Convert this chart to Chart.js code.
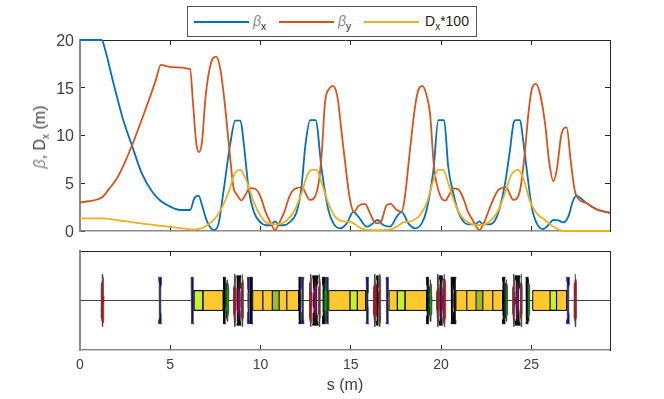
<!DOCTYPE html>
<html><head><meta charset="utf-8">
<script src="https://cdn.jsdelivr.net/npm/chart.js@4/dist/chart.umd.min.js"></script>
<style>
html,body{margin:0;padding:0;background:#fff;width:664px;height:399px;overflow:hidden;font-family:"Liberation Sans",Arial,sans-serif}
canvas{position:absolute;left:0;top:0}
#legend{position:absolute;left:187px;top:6px;width:288px;height:29px;border:1px solid #555;background:#fff;z-index:5}
.ln{position:absolute;top:13.5px;height:2px;width:55px}
.lb{position:absolute;top:6px;font-size:14px;color:#222;line-height:16px;white-space:nowrap}
.gr{font-style:italic;color:#888}
sub{font-size:10px;line-height:0;vertical-align:-4px}
#ylab{position:absolute;left:40px;top:137px;transform:translate(-50%,-50%) rotate(-90deg);font-size:16px;font-weight:400;color:#404040;white-space:nowrap}
</style></head><body>
<canvas id="top" width="664" height="399"></canvas>
<canvas id="low" width="664" height="399"></canvas>
<div id="legend">
<div class="ln" style="left:6px;background:#0072BD"></div><div class="lb" style="left:65px"><span class="gr">β</span><sub>x</sub></div>
<div class="ln" style="left:91px;background:#D95319"></div><div class="lb" style="left:150px"><span class="gr">β</span><sub>y</sub></div>
<div class="ln" style="left:176px;background:#EDB120"></div><div class="lb" style="left:237px">D<sub>x</sub>*100</div>
</div>
<div id="ylab"><span class="gr">β</span>, D<sub>x</sub> (m)</div>
<script>
const sMax=29.36;
const betaXs=[0,1.2,1.39,1.85,2.4,2.87,3.43,4,4.44,5,5.55,6.1,6.33,6.57,6.76,7.04,7.4,7.68,7.96,8.33,8.6,8.89,9.07,9.35,9.63,10,10.3,10.55,10.8,11.05,11.3,11.6,12,12.25,12.5,12.75,13.05,13.39,13.76,14.04,14.4,14.78,15.14,15.42,15.88,16.16,16.47,16.8,17.18,17.55,17.82,18.19,18.56,18.93,19.2,19.58,19.85,20.17,20.4,20.68,20.96,21.24,21.5,21.88,22.12,22.34,22.7,23,23.27,23.55,23.82,24.04,24.15,24.38,24.52,24.75,25.02,25.3,25.67,25.95,26.22,26.5,26.78,27.05,27.3,27.48,28.07,28.62,29.36];
const betaXv=[20,20,19,15.5,11.6,9,6,4.1,3.2,2.55,2.2,2.2,3.4,3.7,2.7,1,0.1,0.8,4.3,9.2,11.55,11.55,9.2,4.3,2,0.9,0.6,0.6,1,0.6,0.6,0.9,2,4.3,9.2,11.6,11.6,6.4,2.2,0.8,0.28,0.8,2,1.5,0.45,0.7,1.15,0.63,0.45,1.5,2,0.8,0.28,0.8,2.2,6.4,11.6,11.6,6.7,3.95,2,1,0.7,0.7,1,0.7,0.7,1.15,2.55,5,8.5,11.45,11.6,11.6,9.9,6.4,2.55,0.8,0.2,0.63,1.15,1.1,0.9,1.5,3.1,3.67,2.9,2.27,1.9];
const betaYs=[0,1.2,1.57,2.04,2.5,2.96,3.43,3.89,4.2,4.48,5,6.1,6.26,6.44,6.6,6.76,6.94,7.13,7.37,7.55,7.78,8,8.24,8.5,8.7,8.94,9.17,9.4,9.72,10,10.28,10.55,10.8,11.05,11.32,11.6,11.88,12.28,12.74,13.2,13.39,13.57,13.82,14,14.26,14.5,14.78,14.96,15.18,15.42,15.79,16.07,16.29,16.47,16.71,16.99,17.2,17.55,17.82,18,18.28,18.56,18.75,18.97,19.2,19.39,19.61,19.94,20.22,20.5,20.68,20.96,21.24,21.5,21.8,22.12,22.44,22.8,23.18,23.6,24,24.38,24.62,24.84,25.02,25.26,25.48,25.76,26,26.22,26.41,26.68,26.96,27.18,27.37,27.5,28.07,28.62,29.36];
const betaYv=[3,3.5,4.3,5.5,7.25,9.35,11.7,14.1,15.8,17.4,17.17,16.96,13.4,9.2,8.25,9.35,13.7,16.5,18.1,18.25,16.9,13.7,9.2,4.6,3.8,3.2,3.8,4.5,4.4,3.6,2,0.9,0.1,0.9,2,3.6,4.4,4.57,3.25,4.8,8.1,13.4,14.94,15.2,14.07,10.2,5.7,3.25,2,2.6,2.83,1.85,1,0.8,1.15,2.7,2.83,2.2,2,3.6,8.5,13,14.8,15.2,14.2,12.3,6.7,3.77,3.18,3.95,4.47,4.36,3.4,2,1,0.1,1.15,2.9,4.3,4.57,3.25,4.3,7.8,12.3,14.8,15.4,14.4,11.3,7.1,5.2,6.4,10.2,10.85,7.4,4.64,3.67,2.9,2.27,1.9];
const dispS=[0,1.2,2.2,3.15,4.44,5.55,6.3,6.76,7.13,7.6,8.05,8.33,8.5,8.7,8.89,9.07,9.35,9.63,10,10.25,10.84,11.45,11.9,12.28,12.56,12.84,13.1,13.39,13.76,14.13,14.6,15.05,15.42,15.79,16.44,17.18,17.55,17.92,18.38,18.84,19.2,19.58,19.85,20.13,20.4,20.77,21.14,21.6,22.12,22.7,23.18,23.55,23.9,24.28,24.56,24.93,25.3,25.76,26.22,26.78,29.36];
const dispV=[1.33,1.33,1.1,0.85,0.55,0.3,0.15,0.3,0.7,1.6,3.2,4.6,5.7,6.3,6.4,5.9,4.6,3,1.6,1,0.7,1.1,2.2,4,5.7,6.4,6.4,5,2.9,1.5,1,0.9,0.45,0.15,0.1,0.15,0.45,0.9,1.05,1.68,2.9,5.3,6.4,6.4,5,2.9,1.5,0.8,0.63,1,2.2,4,5.9,6.4,5.5,3.1,1.85,1.15,0.45,0,0];
const xTicks=[0,5,10,15,20,25];
const yTicks=[0,5,10,15,20];
// lattice elements: [start,end] in metres
const dipoles=[[6.32,7.94],[9.57,12.12],[13.78,15.84],[17.12,19.2],[20.83,23.41],[25.08,26.96]];
const dipoleCuts=[[6.32,6.8],[9.57,10.12],[10.12,10.66],[11.03,11.45],[14.96,15.36],[17.58,18.0],[20.83,21.42],[22.31,22.86]];
const limeBlocks=[[6.32,6.8],[14.96,15.36],[17.58,18.0],[26.04,26.4]];
const oliveBlocks=[[10.66,11.03],[21.94,22.31]];
const redLens=[[1.17,1.33],[8.5,8.66],[8.94,9.06],[12.7,12.86],[13.22,13.32],[16.25,16.42],[16.55,16.67],[19.76,19.9],[20.1,20.27],[23.97,24.1],[24.4,24.5],[27.37,27.52]];
const blueLens=[[4.36,4.52],[6.15,6.31],[9.27,9.42],[12.26,12.41],[13.65,13.78],[15.84,16.0],[16.95,17.11],[26.96,27.12]];
const darkLens=[[7.94,8.07],[9.42,9.57],[12.12,12.25],[13.43,13.6],[19.2,19.33],[20.55,20.68],[20.68,20.83],[23.41,23.55],[24.7,24.83]];
const blackLens=[[8.68,8.92],[12.88,13.2],[16.44,16.53],[19.92,20.08],[24.12,24.38]];
const greenLens=[[8.07,8.25],[13.5,13.7],[19.33,19.5],[23.55,23.69],[24.78,24.92]];
const purpleLens=[[8.72,8.88],[12.95,13.12],[19.95,20.08],[24.15,24.3]];

const rect=([a,b],h)=>[{x:a,y:-h},{x:a,y:h},{x:b,y:h},{x:b,y:-h},{x:a,y:-h}];
const bow=(a,b,h,f)=>{const c=(a+b)/2,w=(b-a)/2,p=[];const N=6;
  for(let i=-N;i<=N;i++){const t=i/N;p.push({x:c+f(t)*w,y:t*h});}
  for(let i=N;i>=-N;i--){const t=i/N;p.push({x:c-f(t)*w,y:t*h});}
  p.push(p[0]);return p;};
const convex=([a,b],h)=>bow(a,b,h,t=>1-t*t);
const concave=([a,b],h)=>bow(a,b,h,t=>0.4+0.6*t*t);
const poly=(data,fill,stroke,order,w)=>({data,backgroundColor:fill,borderColor:stroke,borderWidth:w??0.7,fill:'shape',showLine:true,pointRadius:0,order,tension:0});

const lineSet=(xs,vs,color,order)=>({data:xs.map((x,i)=>({x,y:vs[i]})),borderColor:color,backgroundColor:color,borderWidth:1.8,pointRadius:0,showLine:true,cubicInterpolationMode:'monotone',fill:false,order,clip:2});

const txt='#404040',ax='#262626',axL='#8a8a8a';
const F={family:'"Liberation Sans",Arial,sans-serif',size:14};
const FY={...F,size:16};
function axes(xLabels,L,T,B,yShow){
  const H=399;
  const xt=()=>({afterBuildTicks(s){s.ticks=xTicks.map(value=>({value}));}});
  return {
    x:{type:'linear',position:'bottom',min:0,max:sMax,...xt(),
      afterFit(s){s.height=H-B;},
      border:{color:axL,width:1.5},grid:{drawOnChartArea:false,drawTicks:true,tickLength:-5,color:ax,tickWidth:1},
      ticks:{display:xLabels,color:txt,font:F,padding:11.5,maxRotation:0,autoSkip:false},
      title:{display:xLabels,text:'s (m)',color:txt,font:FY,padding:{top:2,bottom:4}}},
    x2:{type:'linear',position:'top',min:0,max:sMax,...xt(),
      afterFit(s){s.height=T;},
      border:{color:ax,width:1},grid:{drawOnChartArea:false,tickLength:-5,color:ax},
      ticks:{display:false}},
    y:{type:'linear',position:'left',min:L[0],max:L[1],
      afterBuildTicks(s){s.ticks=yShow?yTicks.map(value=>({value})):[];},
      afterFit(s){s.width=80;},
      border:{color:axL,width:2},grid:{drawOnChartArea:false,tickLength:-5,color:ax},
      ticks:{display:yShow,color:txt,font:FY,padding:11,labelOffset:1.5}},
    y2:{type:'linear',position:'right',min:L[0],max:L[1],
      afterBuildTicks(s){s.ticks=yShow?yTicks.map(value=>({value})):[];},
      afterFit(s){s.width=664-610;},
      border:{color:ax,width:1},grid:{drawOnChartArea:false,tickLength:-5,color:ax},
      ticks:{display:false}}
  };
}
const base={responsive:false,animation:false,devicePixelRatio:1,events:[],
  plugins:{legend:{display:false},tooltip:{enabled:false},title:{display:false}},
  layout:{padding:0}};

new Chart(document.getElementById('top'),{type:'scatter',
  data:{datasets:[
    lineSet(betaXs,betaXv,'#0072BD',3),
    lineSet(betaYs,betaYv,'#D95319',2),
    lineSet(dispS,dispV,'#EDB120',1)]},
  options:{...base,scales:axes(false,[0,20],40,231,true)}});

const K='#000';
const low=[];
low.push(poly([{x:0,y:0},{x:sMax,y:0}],'transparent','#444',100,1));
dipoles.forEach(e=>low.push(poly(rect(e,0.2),'#FFC92E',K,90,1)));
dipoleCuts.forEach(e=>low.push(poly(rect(e,0.2),'#FFC92E','#333',89,1)));
limeBlocks.forEach(e=>low.push(poly(rect(e,0.2),'#C6F02E',K,88,1.1)));
oliveBlocks.forEach(e=>low.push(poly(rect(e,0.2),'#9DBB2A','#222',88,1.1)));
darkLens.forEach(e=>low.push(poly(concave(e,0.47),'#111',K,60)));
blueLens.forEach(e=>low.push(poly(concave(e,0.47),'#0000C8','#444',58)));
redLens.forEach(e=>low.push(poly(convex(e,0.53),'#E00010','#444',56)));
blackLens.forEach(e=>low.push(poly(concave(e,0.5),'#111',K,54)));
greenLens.forEach(e=>low.push(poly(convex(e,0.42),'#00A000','#222',52)));
purpleLens.forEach(e=>low.push(poly(convex(e,0.4),'#A000A0','#222',50)));

new Chart(document.getElementById('low'),{type:'scatter',
  data:{datasets:low},
  options:{...base,scales:axes(true,[-1,1],251,350,false)}});
</script>
</body></html>
